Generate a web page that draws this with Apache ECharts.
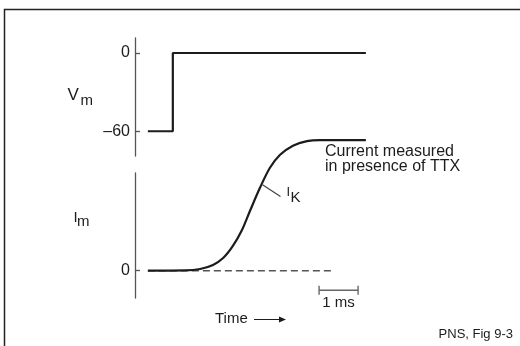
<!DOCTYPE html>
<html>
<head>
<meta charset="utf-8">
<script src="https://cdn.jsdelivr.net/npm/echarts@6/dist/echarts.min.js"></script>
<style>
html, body { margin: 0; padding: 0; background: #fff; }
#chart { width: 520px; height: 346px; }
</style>
</head>
<body>
<div id="chart"></div>
<script>
// membrane voltage step (time in ms, mV)
var vmTime = [0.33, 0.97, 0.97, 5.92];
var vmValue = [-60, -60, 0, 0];
// K current, relative units (plateau = 100)
var ikTime = [0.33, 1.28, 1.67, 2.0, 2.26, 2.51, 2.74, 2.95, 3.21, 3.46, 3.72, 4.05, 4.41, 4.74, 5.92];
var ikValue = [0, 0.2, 1.3, 4.4, 9.7, 19, 31, 46, 64, 79, 89, 96, 99.5, 100.3, 100.3];
// zero current baseline and 1 ms calibration bar
var baseTime = [0.33, 5.07];
var barTime = [4.72, 5.72];
var barLevel = -15;
// ticks shown
var vmTicks = [0, -60];
var imTicks = [0];

function pairs(xs, ys) {
    var out = [];
    for (var i = 0; i < xs.length; i++) out.push([xs[i], ys[i]]);
    return out;
}

var FONT = '"Liberation Sans", Arial, sans-serif';
var ink = '#1c1c1c';

var chart = echarts.init(document.getElementById('chart'));
var option = {
    animation: false,
    backgroundColor: '#fff',
    grid: [
        { left: 135, top: 38, width: 234, height: 118 },
        { left: 135, top: 173, width: 234, height: 125 }
    ],
    xAxis: [
        { gridIndex: 0, type: 'value', min: 0, max: 6, show: false },
        { gridIndex: 1, type: 'value', min: 0, max: 6, show: false }
    ],
    yAxis: [
        {
            gridIndex: 0, type: 'value', min: -79, max: 11.5,
            splitLine: { show: false },
            axisLine: { show: true, lineStyle: { color: '#555', width: 1.3 } },
            axisTick: { show: true, inside: true, length: 5, customValues: vmTicks, lineStyle: { color: '#555', width: 1.3 } },
            axisLabel: {
                customValues: vmTicks, margin: 5, color: ink, fontSize: 16, fontFamily: FONT,
                formatter: function(v) { return v < 0 ? '\u2013' + Math.abs(v) : String(v); }
            }
        },
        {
            gridIndex: 1, type: 'value', min: -21, max: 75,
            splitLine: { show: false },
            axisLine: { show: true, lineStyle: { color: '#555', width: 1.3 } },
            axisTick: { show: true, inside: true, length: 5, customValues: imTicks, lineStyle: { color: '#555', width: 1.3 } },
            axisLabel: { customValues: imTicks, margin: 5, color: ink, fontSize: 16, fontFamily: FONT }
        }
    ],
    series: [
        {
            name: 'Vm', type: 'line', xAxisIndex: 0, yAxisIndex: 0,
            data: pairs(vmTime, vmValue), symbol: 'none',
            lineStyle: { color: ink, width: 2.2 }
        },
        {
            name: 'baseline', type: 'line', xAxisIndex: 1, yAxisIndex: 1,
            data: pairs(baseTime, [0, 0]), symbol: 'none', z: 1,
            lineStyle: { color: '#555', width: 1.5, type: [7, 4] }
        },
        {
            name: 'IK', type: 'line', xAxisIndex: 1, yAxisIndex: 1,
            data: pairs(ikTime, ikValue), symbol: 'none', smooth: 0.3, clip: false, z: 3,
            lineStyle: { color: ink, width: 2.2 }
        },
        {
            name: 'scale', type: 'line', xAxisIndex: 1, yAxisIndex: 1,
            data: pairs(barTime, [barLevel, barLevel]), clip: false,
            symbol: 'rect', symbolSize: [1.4, 9], showAllSymbol: true,
            itemStyle: { color: '#666' },
            lineStyle: { color: '#666', width: 1.4 }
        },
        {
            name: 'leader', type: 'line', xAxisIndex: 1, yAxisIndex: 1,
            data: [[3.27, 66], [3.73, 57]], symbol: 'none', clip: false,
            lineStyle: { color: '#444', width: 1.2 }
        }
    ],
    graphic: [
        // frame
        { type: 'polyline', shape: { points: [[4.5, 346], [4.5, 9.5], [520, 9.5]] },
          style: { stroke: '#222', lineWidth: 1.5, fill: null } },
        // Vm label
        { type: 'text', x: 67.5, y: 95.5, style: { text: 'V', font: '17px ' + FONT, fill: ink, verticalAlign: 'middle' } },
        { type: 'text', x: 80.5, y: 101, style: { text: 'm', font: '15px ' + FONT, fill: ink, verticalAlign: 'middle' } },
        // Im label
        { type: 'text', x: 73.5, y: 218, style: { text: 'I', font: '15px ' + FONT, fill: ink, verticalAlign: 'middle' } },
        { type: 'text', x: 77, y: 222, style: { text: 'm', font: '15px ' + FONT, fill: ink, verticalAlign: 'middle' } },
        // IK label
        { type: 'text', x: 286.5, y: 192, style: { text: 'I', font: '13px ' + FONT, fill: ink, verticalAlign: 'middle' } },
        { type: 'text', x: 290.5, y: 198, style: { text: 'K', font: '15px ' + FONT, fill: ink, verticalAlign: 'middle' } },
        // annotation
        { type: 'text', x: 325, y: 152, style: { text: 'Current measured', font: '16px ' + FONT, fill: ink, verticalAlign: 'middle' } },
        { type: 'text', x: 325, y: 167, style: { text: 'in presence of TTX', font: '16px ' + FONT, fill: ink, verticalAlign: 'middle' } },
        // scale bar label
        { type: 'text', x: 338.5, y: 303, style: { text: '1 ms', font: '15px ' + FONT, fill: ink, align: 'center', verticalAlign: 'middle' } },
        // time arrow
        { type: 'text', x: 215, y: 319, style: { text: 'Time', font: '15px ' + FONT, fill: ink, verticalAlign: 'middle' } },
        { type: 'line', shape: { x1: 254, y1: 319.5, x2: 280, y2: 319.5 }, style: { stroke: ink, lineWidth: 1 } },
        { type: 'polygon', shape: { points: [[279, 316.5], [286, 319.5], [279, 322.5]] }, style: { fill: ink } },
        // source
        { type: 'text', x: 513, y: 334, style: { text: 'PNS, Fig 9-3', font: '13px ' + FONT, fill: ink, align: 'right', verticalAlign: 'middle' } }
    ]
};
chart.setOption(option);
</script>
</body>
</html>
